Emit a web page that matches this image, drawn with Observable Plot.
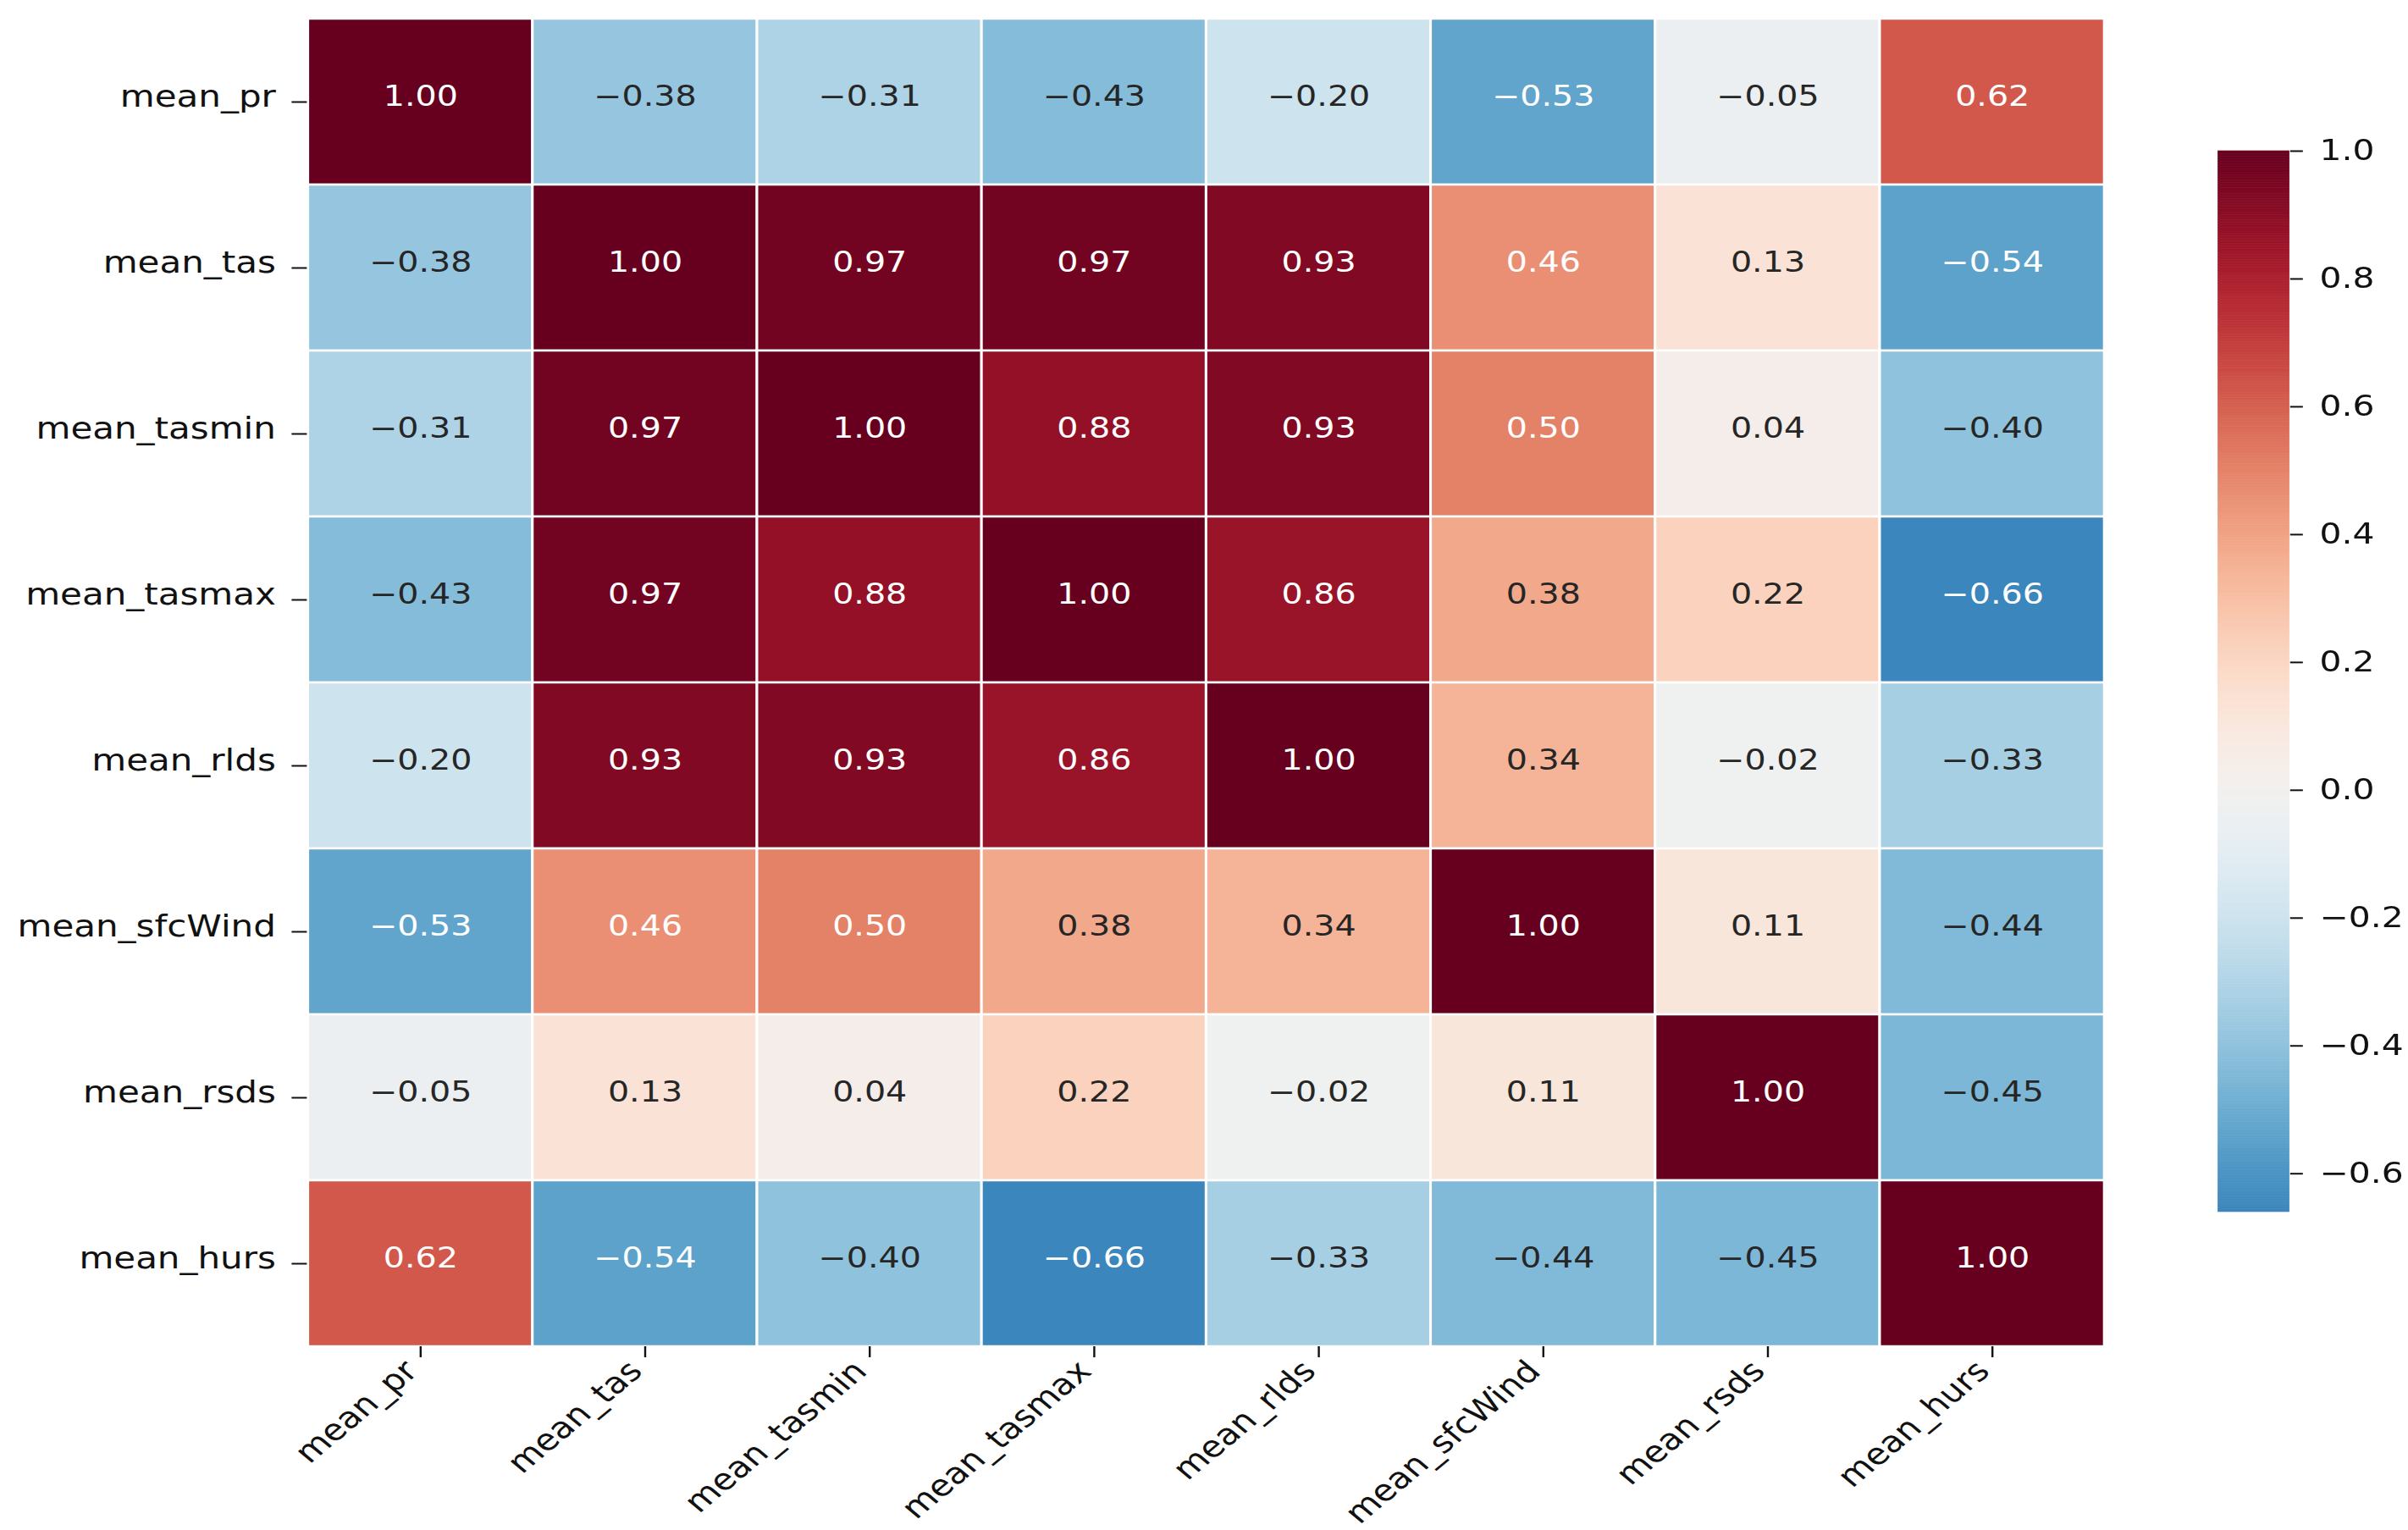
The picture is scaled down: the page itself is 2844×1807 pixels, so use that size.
<!DOCTYPE html>
<html>
<head>
<meta charset="utf-8">
<script src="https://cdn.jsdelivr.net/npm/d3@7"></script>
<script src="https://cdn.jsdelivr.net/npm/@observablehq/plot@0.6"></script>
<style>
  html, body { margin: 0; padding: 0; background: #fff; overflow: hidden; }
  #wrap { position: relative; width: 2370px; height: 1807px; transform: scaleX(1.2); transform-origin: 0 0; }
  #wrap svg { max-width: none !important; }
  #main, #cbar { position: absolute; top: 0; }
  #main { left: 0; width: 2100px; }
  #cbar { left: 2182.5px; width: 220px; }
</style>
</head>
<body>
<div id="wrap"><div id="main"></div><div id="cbar"></div></div>
<script>
// ---- data ----
const variables = ["mean_pr", "mean_tas", "mean_tasmin", "mean_tasmax", "mean_rlds", "mean_sfcWind", "mean_rsds", "mean_hurs"];
const row_mean_pr      = [ 1.00, -0.38, -0.31, -0.43, -0.20, -0.53, -0.05,  0.62];
const row_mean_tas     = [-0.38,  1.00,  0.97,  0.97,  0.93,  0.46,  0.13, -0.54];
const row_mean_tasmin  = [-0.31,  0.97,  1.00,  0.88,  0.93,  0.50,  0.04, -0.40];
const row_mean_tasmax  = [-0.43,  0.97,  0.88,  1.00,  0.86,  0.38,  0.22, -0.66];
const row_mean_rlds    = [-0.20,  0.93,  0.93,  0.86,  1.00,  0.34, -0.02, -0.33];
const row_mean_sfcWind = [-0.53,  0.46,  0.50,  0.38,  0.34,  1.00,  0.11, -0.44];
const row_mean_rsds    = [-0.05,  0.13,  0.04,  0.22, -0.02,  0.11,  1.00, -0.45];
const row_mean_hurs    = [ 0.62, -0.54, -0.40, -0.66, -0.33, -0.44, -0.45,  1.00];
const colorbarTicks = [-0.6, -0.4, -0.2, 0.0, 0.2, 0.4, 0.6, 0.8, 1.0];
const colorbarMin = -0.66;
const colorbarMax = 1.0;

// ---- build table ----
const matrix = [row_mean_pr, row_mean_tas, row_mean_tasmin, row_mean_tasmax,
                row_mean_rlds, row_mean_sfcWind, row_mean_rsds, row_mean_hurs];
const cells = [];
variables.forEach((r, i) => matrix[i].forEach((v, j) => cells.push({row: r, col: variables[j], value: v})));

const colorOpts = {type: "linear", scheme: "RdBu", reverse: true, domain: [-1, 1]};
const cscale = Plot.scale({color: colorOpts});
function luminance(c) {
  const rgb = d3.rgb(c);
  const f = v => { v /= 255; return v <= 0.03928 ? v / 12.92 : Math.pow((v + 0.055) / 1.055, 2.4); };
  return 0.2126 * f(rgb.r) + 0.7152 * f(rgb.g) + 0.0722 * f(rgb.b);
}
const fmt2 = d3.format(".2f");
const font = '"DejaVu Sans", sans-serif';

const main = Plot.plot({
  width: 2100, height: 1807,
  marginLeft: 302, marginRight: 28, marginTop: 21, marginBottom: 217,
  style: {fontFamily: font, fontSize: "35px", color: "#111", background: "white"},
  x: {domain: variables, padding: 0, label: null},
  y: {domain: variables, padding: 0, label: null},
  color: colorOpts,
  marks: [
    Plot.cell(cells, {x: "col", y: "row", fill: "value", stroke: "white", strokeWidth: 2.5, inset: 0}),
    Plot.text(cells, {
      x: "col", y: "row",
      text: d => fmt2(d.value),
      fill: d => luminance(cscale.apply(d.value)) > 0.408 ? "#262626" : "white",
      fontSize: 33, dy: -6
    }),
    Plot.axisX({tickSize: 13, strokeWidth: 2, label: null, text: null}),
    Plot.axisX({tickRotate: -45, tickSize: 13, tickPadding: 6, stroke: "none", label: null, fontSize: 35, dx: -9, dy: 4}),
    Plot.axisY({tickSize: 15, strokeWidth: 2, label: null, text: null}),
    Plot.axisY({tickSize: 0, tickPadding: 31, label: null, fontSize: 35, dy: -6})
  ]
});
document.getElementById("main").appendChild(main);

const nBands = 400;
const bands = d3.range(nBands).map(i => {
  const a = colorbarMin + (colorbarMax - colorbarMin) * i / nBands;
  const b = colorbarMin + (colorbarMax - colorbarMin) * (i + 1) / nBands;
  return {y1: a, y2: b, v: (a + b) / 2};
});
const cbar = Plot.plot({
  width: 220, height: 1807,
  marginLeft: 0, marginRight: 150, marginTop: 178, marginBottom: 376,
  style: {fontFamily: font, fontSize: "34px", color: "#111", background: "transparent", overflow: "visible"},
  y: {domain: [colorbarMin, colorbarMax], label: null},
  color: colorOpts,
  marks: [
    Plot.rect(bands, {y1: "y1", y2: "y2", fill: "v", stroke: "v", strokeWidth: 0.6, inset: 0}),
    Plot.axisY(colorbarTicks, {anchor: "right", tickSize: 12.5, tickPadding: 17, strokeWidth: 2,
      tickFormat: d3.format(".1f"), label: null, fontSize: 34})
  ]
});
document.getElementById("cbar").appendChild(cbar);
</script>
</body>
</html>
